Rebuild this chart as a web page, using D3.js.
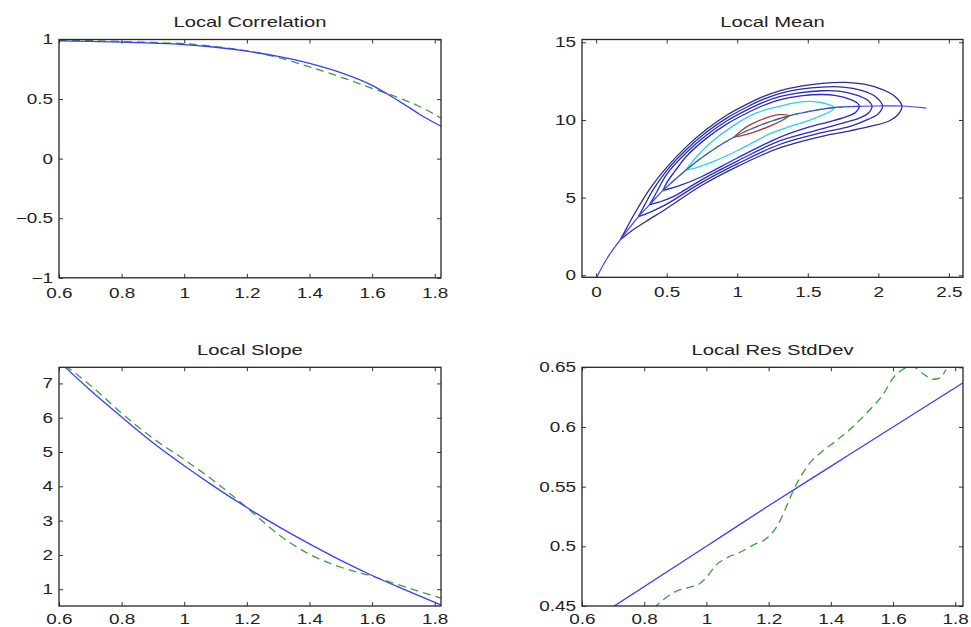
<!DOCTYPE html>
<html>
<head>
<meta charset="utf-8">
<script src="https://cdn.jsdelivr.net/npm/d3@7"></script>
<style>
body { margin: 0; background: #fff; }
svg text { font-family: "Liberation Sans", Arial, sans-serif; fill: #222; }
</style>
</head>
<body>
<div id="vis"></div>
<script>
// ---- data ----
var bandX = [0.6, 0.8, 1, 1.2, 1.4, 1.6, 1.8];

// Local Correlation
var corrX     = [0.6, 0.7, 0.8, 0.9, 1.0, 1.1, 1.2, 1.3, 1.4, 1.5, 1.6, 1.65, 1.7, 1.75, 1.82];
var corrBlue  = [0.988, 0.984, 0.978, 0.969, 0.957, 0.935, 0.902, 0.858, 0.80, 0.722, 0.615, 0.54, 0.46, 0.375, 0.272];
var corrGreen = [0.995, 0.99, 0.983, 0.975, 0.965, 0.94, 0.905, 0.85, 0.77, 0.685, 0.59, 0.545, 0.495, 0.44, 0.34];
var corrTicks = [-1, -0.5, 0, 0.5, 1];

// Local Slope
var slopeX     = [0.62, 0.7, 0.8, 0.9, 1.0, 1.1, 1.2, 1.25, 1.3, 1.4, 1.5, 1.6, 1.7, 1.82];
var slopeBlue  = [7.47, 6.8, 6.02, 5.27, 4.6, 3.97, 3.38, 3.1, 2.83, 2.32, 1.84, 1.4, 1.0, 0.54];
var slopeGreen = [7.52, 6.95, 6.13, 5.4, 4.78, 4.12, 3.38, 2.98, 2.6, 2.02, 1.64, 1.38, 1.08, 0.74];
var slopeTicks = [1, 2, 3, 4, 5, 6, 7];

// Local Res StdDev
var sdBlueX  = [0.6, 1.0, 1.2, 1.4, 1.6, 1.825];
var sdBlue   = [0.4325, 0.5, 0.534, 0.567, 0.6, 0.637];
var sdGreenX = [0.83, 0.86, 0.9, 0.95, 0.98, 1.0, 1.03, 1.07, 1.1, 1.15, 1.2, 1.23, 1.26, 1.28, 1.3, 1.33, 1.37, 1.42, 1.47, 1.52, 1.57, 1.6, 1.63, 1.66, 1.7, 1.73, 1.75, 1.77];
var sdGreen  = [0.448, 0.455, 0.462, 0.466, 0.469, 0.474, 0.484, 0.491, 0.494, 0.501, 0.508, 0.518, 0.535, 0.547, 0.557, 0.569, 0.579, 0.589, 0.600, 0.613, 0.628, 0.641, 0.648, 0.651, 0.644, 0.640, 0.641, 0.648];
var sdTicks  = [0.45, 0.5, 0.55, 0.6, 0.65];

// Local Mean (contours drawn apex -> upper edge -> right end -> lower edge -> apex)
var meanXTicks = [0, 0.5, 1, 1.5, 2, 2.5];
var meanYTicks = [0, 5, 10, 15];
var ridge = [[0,-0.2],[0.078,1.1],[0.171,2.28],[0.30,3.78],[0.378,4.53],[0.473,5.45],[0.637,6.78],[0.8,7.9],[0.978,8.9],[1.18,9.72],[1.36,10.25],[1.55,10.62],[1.689,10.8],[1.865,10.88],[2.0,10.9],[2.167,10.9],[2.34,10.76]];
var ridgeDash = [[0.473,5.45],[0.637,6.78],[0.8,7.9],[0.978,8.9],[1.18,9.72],[1.36,10.25],[1.55,10.62],[1.689,10.8],[1.75,10.83]];
var contourA = [[0.171,2.28],[0.22,3.1],[0.265,3.85],[0.383,5.6],[0.5,6.95],[0.642,8.3],[0.783,9.4],[0.925,10.3],[1.066,11.0],[1.183,11.5],[1.3,11.88],[1.45,12.18],[1.6,12.36],[1.77,12.42],[1.9,12.3],[2.03,11.95],[2.12,11.5],[2.167,10.9],
  [2.14,10.35],[2.08,9.95],[1.95,9.6],[1.8,9.3],[1.6,8.95],[1.3,8.2],[1.0,7.0],[0.75,5.8],[0.5,4.3],[0.35,3.45],[0.25,2.85],[0.171,2.28]];
var contourB = [[0.30,3.78],[0.34,4.45],[0.4,5.45],[0.5,6.74],[0.642,8.11],[0.783,9.22],[0.925,10.12],[1.066,10.82],[1.183,11.32],[1.3,11.7],[1.45,11.98],[1.6,12.12],[1.75,12.12],[1.88,11.9],[1.98,11.5],[2.03,10.9],
  [2.0,10.4],[1.93,10.05],[1.8,9.58],[1.6,9.18],[1.3,8.42],[1.0,7.17],[0.75,5.98],[0.5,4.58],[0.38,4.05],[0.30,3.78]];
var contourC = [[0.378,4.53],[0.42,5.2],[0.5,6.5],[0.642,7.92],[0.783,9.03],[0.925,9.93],[1.066,10.63],[1.183,11.13],[1.3,11.5],[1.45,11.76],[1.6,11.88],[1.72,11.86],[1.84,11.62],[1.92,11.3],[1.955,10.9],
  [1.93,10.45],[1.86,10.1],[1.75,9.8],[1.6,9.42],[1.3,8.65],[1.0,7.35],[0.75,6.16],[0.55,5.08],[0.45,4.72],[0.378,4.53]];
var contourD = [[0.473,5.45],[0.5,5.95],[0.56,6.72],[0.642,7.68],[0.783,8.83],[0.925,9.73],[1.066,10.43],[1.183,10.93],[1.3,11.3],[1.45,11.55],[1.6,11.64],[1.7,11.57],[1.8,11.33],[1.85,11.1],[1.865,10.88],
  [1.84,10.5],[1.77,10.2],[1.65,9.88],[1.5,9.52],[1.3,8.88],[1.0,7.55],[0.75,6.36],[0.6,5.8],[0.473,5.45]];
var contourCyan = [[0.637,6.78],[0.7,7.5],[0.807,8.5],[0.971,9.62],[1.136,10.45],[1.3,10.88],[1.418,11.12],[1.512,11.2],[1.583,11.14],[1.65,10.98],[1.689,10.8],
  [1.66,10.55],[1.6,10.3],[1.51,9.98],[1.35,9.5],[1.23,9.1],[1.018,8.1],[0.83,7.32],[0.7,6.9],[0.637,6.78]];
var contourRed = [[0.978,8.9],[1.03,9.32],[1.09,9.68],[1.2,10.12],[1.3,10.34],[1.365,10.27],[1.32,9.98],[1.24,9.64],[1.15,9.32],[1.06,9.06],[0.978,8.9]];

// ---- drawing ----
var W = 971, H = 627, stretch = 1.35;
var BLUE = "#3c3cff", GREEN = "#3a9e3a", DASH = "8,5";
var smooth = d3.curveCatmullRom.alpha(0.5);

var svg = d3.select("#vis").append("svg").attr("width", W).attr("height", H);

var panels = [
  { title: "Local Correlation", box: [59, 39.5, 441, 277.8], xd: [0.6, 1.82], yd: [-1, 1], xt: bandX, yt: corrTicks, pad: 10,
    series: [
      { data: d3.zip(corrX, corrGreen), color: GREEN, dash: DASH },
      { data: d3.zip(corrX, corrBlue), color: BLUE }
    ] },
  { title: "Local Mean", box: [582, 39.5, 963, 277.3], xd: [-0.1, 2.6], yd: [-0.13, 15.18], xt: meanXTicks, yt: meanYTicks, pad: 10,
    series: [
      { data: contourA, color: "#2e2e90", curve: smooth, width: 1.3 },
      { data: contourB, color: "#2c2ca6", curve: smooth, width: 1.3 },
      { data: contourC, color: "#2a2ab8", curve: smooth, width: 1.3 },
      { data: contourD, color: "#2828cc", curve: smooth, width: 1.3 },
      { data: contourCyan, color: "#28d0f2", curve: smooth, width: 1.3 },
      { data: contourRed, color: "#a83c3c", curve: smooth, width: 1.3 },
      { data: ridge, color: BLUE, curve: smooth, width: 1.2 },
      { data: ridgeDash, color: "#2e8a3c", curve: smooth, width: 1.2, dash: "6,5" }
    ] },
  { title: "Local Slope", box: [59, 367.3, 441, 606], xd: [0.6, 1.82], yd: [0.51, 7.47], xt: bandX, yt: slopeTicks, pad: 8,
    series: [
      { data: d3.zip(slopeX, slopeGreen), color: GREEN, dash: DASH },
      { data: d3.zip(slopeX, slopeBlue), color: BLUE }
    ] },
  { title: "Local Res StdDev", box: [582, 367.3, 963, 606], xd: [0.6, 1.825], yd: [0.45, 0.65], xt: bandX, yt: sdTicks, pad: 8,
    series: [
      { data: d3.zip(sdGreenX, sdGreen), color: GREEN, dash: DASH },
      { data: d3.zip(sdBlueX, sdBlue), color: BLUE }
    ] }
];

function fmt(d) { return String(d).replace("-", "\u2212"); }

panels.forEach(function(p, i) {
  var x = d3.scaleLinear().domain(p.xd).range([p.box[0], p.box[2]]);
  var y = d3.scaleLinear().domain(p.yd).range([p.box[3], p.box[1]]);
  var g = svg.append("g");

  g.append("clipPath").attr("id", "clip" + i).append("rect")
    .attr("x", p.box[0]).attr("y", p.box[1])
    .attr("width", p.box[2] - p.box[0]).attr("height", p.box[3] - p.box[1]);

  var plot = g.append("g").attr("clip-path", "url(#clip" + i + ")");
  p.series.forEach(function(s) {
    var line = d3.line().x(function(d) { return x(d[0]); }).y(function(d) { return y(d[1]); })
      .curve(s.curve || d3.curveMonotoneX);
    plot.append("path").datum(s.data).attr("d", line)
      .attr("fill", "none").attr("stroke", s.color)
      .attr("stroke-width", s.width || 1.3)
      .attr("stroke-dasharray", s.dash || null);
  });

  // ticks on all four sides, pointing inward
  var ax = [
    [d3.axisBottom(x).tickValues(p.xt).tickFormat(fmt).tickPadding(p.pad), "translate(0," + p.box[3] + ")"],
    [d3.axisTop(x).tickValues(p.xt).tickFormat(""), "translate(0," + p.box[1] + ")"],
    [d3.axisLeft(y).tickValues(p.yt).tickFormat(fmt).tickPadding(6), "translate(" + p.box[0] + ",0)"],
    [d3.axisRight(y).tickValues(p.yt).tickFormat(""), "translate(" + p.box[2] + ",0)"]
  ];
  ax.forEach(function(a) {
    var s = g.append("g").attr("transform", a[1]).call(a[0].tickSizeInner(-4).tickSizeOuter(0));
    s.select(".domain").remove();
    s.selectAll("line").attr("stroke", "#333");
    s.selectAll("text").attr("font-size", 14).attr("font-family", null).attr("fill", "#222");
  });

  g.append("rect")
    .attr("x", p.box[0]).attr("y", p.box[1])
    .attr("width", p.box[2] - p.box[0]).attr("height", p.box[3] - p.box[1])
    .attr("fill", "none").attr("stroke", "#262626").attr("stroke-width", 1.3);

  g.append("text").attr("class", "title")
    .attr("x", (p.box[0] + p.box[2]) / 2).attr("y", p.box[1] - 12.5)
    .attr("text-anchor", "middle").attr("font-size", 15)
    .text(p.title);
});

// the original figure is stretched sideways: widen every label the same way
svg.selectAll("text").each(function() {
  var w = this.getComputedTextLength();
  if (w > 0) d3.select(this).attr("textLength", w * stretch).attr("lengthAdjust", "spacingAndGlyphs");
});
</script>
</body>
</html>
